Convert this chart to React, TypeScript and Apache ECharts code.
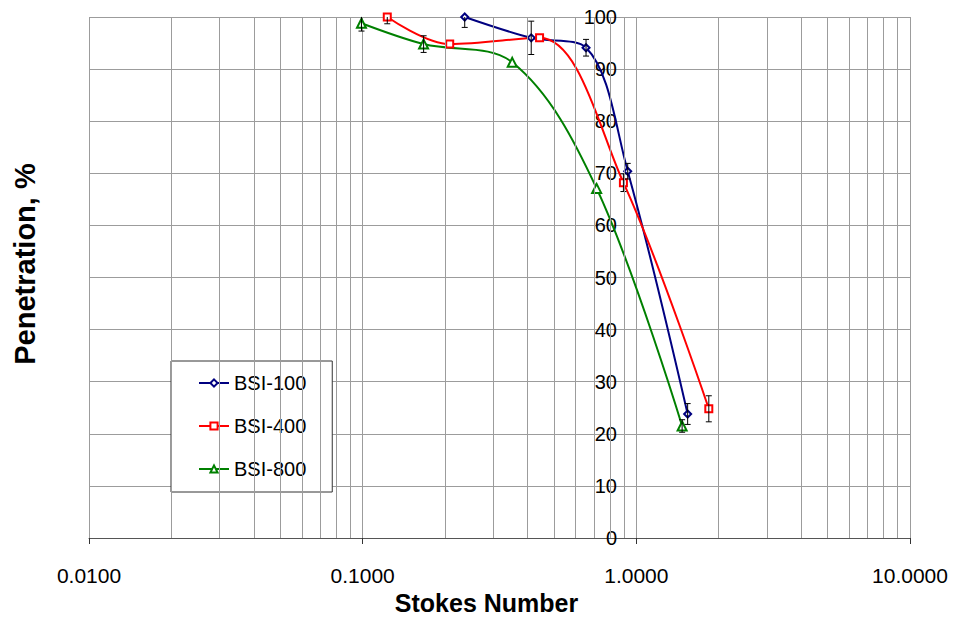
import React, { useEffect, useRef } from "react";
import * as echarts from "echarts";

// Stokes number (x) and penetration % (y) for each filter sample
const bsi100X = [0.236, 0.413, 0.655, 0.93, 1.54];
const bsi100Y = [100, 96.0, 94.1, 70.4, 23.8];
const bsi100Err = [2, 3.2, 1.6, 1.5, 2];

const bsi400X = [0.123, 0.208, 0.443, 0.897, 1.84];
const bsi400Y = [100, 94.8, 96.0, 68.2, 24.8];
const bsi400Err = [1.3, 0, 0, 1.7, 2.5];

const bsi800X = [0.099, 0.167, 0.352, 0.716, 1.47];
const bsi800Y = [98.8, 94.8, 91.3, 67.1, 21.5];
const bsi800Err = [1.5, 1.6, 0, 0, 1.2];

const seriesNames = ["BSI-100", "BSI-400", "BSI-800"];
const seriesColors = ["#000080", "#ff0000", "#008000"];
const seriesSymbols = ["emptyDiamond", "emptyRect", "emptyTriangle"];

// minor log grid: 2..9 within each decade
const decades = [0.01, 0.1, 1];
const minorSteps = [2, 3, 4, 5, 6, 7, 8, 9];

const FONT = "'Liberation Sans', Arial, sans-serif";
const GRID_COLOR = "#9c9c9c";

function pairs(xs: number[], ys: number[]) {
  return xs.map((x, i) => [x, ys[i]]);
}

function errRows(xs: number[], ys: number[], es: number[]) {
  return xs
    .map((x, i) => [x, ys[i] - es[i], ys[i] + es[i]])
    .filter((r, i) => es[i] > 0);
}

export default function App() {
  const ref = useRef<HTMLDivElement>(null);

  useEffect(() => {
    if (!ref.current) return;
    const chart = echarts.init(ref.current, undefined, { renderer: "svg" });

    const minorLines: any[] = [];
    decades.forEach((d) =>
      minorSteps.forEach((m) => minorLines.push({ xAxis: +(d * m).toPrecision(3) }))
    );

    const xs = [bsi100X, bsi400X, bsi800X];
    const ys = [bsi100Y, bsi400Y, bsi800Y];
    const es = [bsi100Err, bsi400Err, bsi800Err];

    const lineSeries = seriesNames.map((name, k) => ({
      name,
      type: "line",
      data: pairs(xs[k], ys[k]),
      smooth: 0.35,
      symbol: seriesSymbols[k],
      symbolSize: k === 2 ? 9 : 7,
      z: 3,
      lineStyle: { color: seriesColors[k], width: 2 },
      itemStyle: { color: seriesColors[k], borderWidth: 1 },
    }));

    const errorSeries = seriesNames.map((name, k) => ({
      name: name + " error",
      type: "custom",
      z: 4,
      clip: true,
      data: errRows(xs[k], ys[k], es[k]),
      encode: { x: 0, y: [1, 2] },
      renderItem: (params: any, api: any) => {
        const lo = api.coord([api.value(0), api.value(1)]);
        const hi = api.coord([api.value(0), api.value(2)]);
        const cap = 3;
        const style = { stroke: "#000", lineWidth: 1 };
        return {
          type: "group",
          children: [
            { type: "line", shape: { x1: lo[0], y1: lo[1], x2: hi[0], y2: hi[1] }, style },
            { type: "line", shape: { x1: lo[0] - cap, y1: lo[1], x2: lo[0] + cap, y2: lo[1] }, style },
            { type: "line", shape: { x1: hi[0] - cap, y1: hi[1], x2: hi[0] + cap, y2: hi[1] }, style },
          ],
        };
      },
    }));

    chart.setOption({
      animation: false,
      backgroundColor: "#ffffff",
      textStyle: { fontFamily: FONT },
      grid: { left: 89, right: 47, top: 17, bottom: 81, containLabel: false, outerBoundsMode: "none" },
      legend: {
        data: seriesNames,
        orient: "vertical",
        left: 171,
        top: 361,
        itemWidth: 30,
        itemHeight: 9,
        itemGap: 23,
        padding: [12, 26, 13, 27],
        backgroundColor: "#ffffff",
        borderColor: "#333",
        borderWidth: 1,
        borderRadius: 0,
        textStyle: { fontSize: 20, color: "#000", fontFamily: FONT },
      },
      graphic: [
        {
          type: "text",
          x: 25,
          y: 264,
          rotation: Math.PI / 2,
          style: {
            text: "Penetration, %",
            font: `bold 29px ${FONT}`,
            fill: "#000",
            align: "center",
            verticalAlign: "middle",
          },
        },
      ],
      xAxis: {
        type: "log",
        logBase: 10,
        min: 0.01,
        max: 10,
        name: "Stokes Number",
        nameLocation: "middle",
        nameGap: 48,
        nameTextStyle: {
          fontSize: 25,
          fontWeight: "bold",
          color: "#000",
          fontFamily: FONT,
          padding: [0, 26, 0, 0],
        },
        axisLine: { show: true, lineStyle: { color: "#555", width: 1 } },
        axisTick: { show: true, length: 6, lineStyle: { color: "#333" } },
        axisLabel: {
          fontSize: 21,
          color: "#000",
          margin: 27,
          fontFamily: FONT,
          formatter: (v: number) => v.toFixed(4),
        },
        splitLine: { show: true, lineStyle: { color: GRID_COLOR, width: 1 } },
        minorTick: { show: false },
      },
      yAxis: {
        type: "value",
        min: 0,
        max: 100,
        interval: 10,
        position: "left",
        offset: -548,
        axisLine: { show: false },
        axisTick: { show: false },
        axisLabel: { fontSize: 20, color: "#000", margin: 20, fontFamily: FONT },
        splitLine: { show: true, lineStyle: { color: GRID_COLOR, width: 1 } },
      },
      series: [
        {
          name: "minor grid",
          type: "line",
          data: [],
          z: 1,
          silent: true,
          markLine: {
            silent: true,
            symbol: "none",
            label: { show: false },
            lineStyle: { color: GRID_COLOR, width: 1, type: "solid" },
            data: minorLines,
          },
        },
        ...lineSeries,
        ...errorSeries,
      ],
    });

    return () => chart.dispose();
  }, []);

  return (
    <div
      ref={ref}
      style={{ position: "fixed", left: 0, top: 0, width: 957, height: 619 }}
    />
  );
}
